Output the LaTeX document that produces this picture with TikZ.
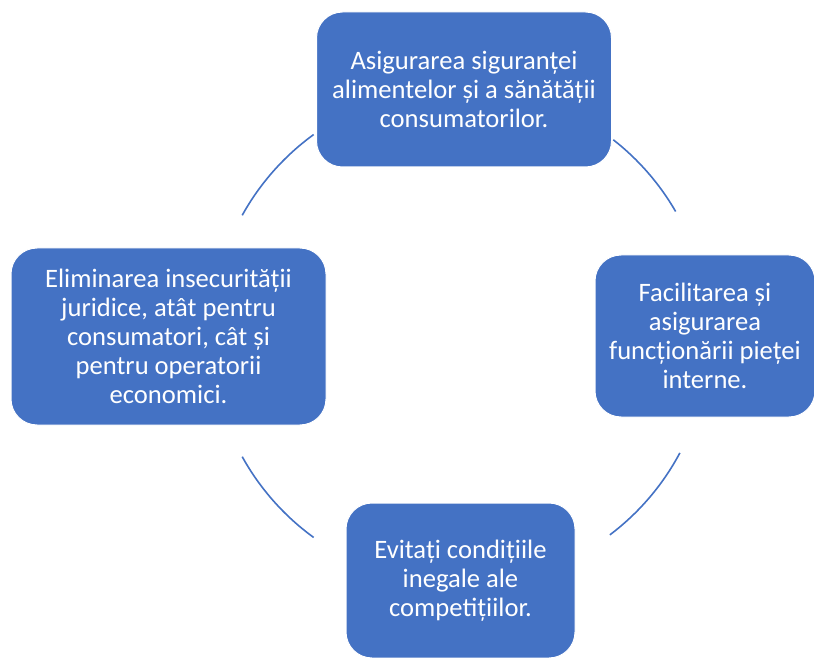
\documentclass[tikz,border=0pt]{standalone}
\usepackage{fontspec}
\setmainfont{Carlito}
\usepackage{tikz}
\usetikzlibrary{calc, positioning}
\definecolor{smartblue}{HTML}{4472C4}
\tikzset{>=latex}
\tikzset{goalbox/.style={rectangle, rounded corners=26pt, fill=smartblue,
    draw=white, line width=1pt, text=white, align=center, inner sep=0pt,
    font=\fontsize{26.6}{28.9}\selectfont}}
\tikzset{cyclearc/.style={draw=smartblue, line width=1.6pt}}

\begin{document}
\begin{tikzpicture}[x=1pt, y=1pt]
      \useasboundingbox (0, 0) rectangle (814, 657); %
      \coordinate (c) at (460, 321); %
      \def\rad{249}
      % the four goals
      \node[goalbox, minimum width=295pt, minimum height=155pt] (food) at (464, 567.5)
      {Asigurarea siguranței\\alimentelor și a sănătății\\consumatorilor.}; %
      \node[goalbox, minimum width=220pt, minimum height=162pt] (market) at (705, 321)
      {Facilitarea și\\asigurarea\\funcționării pieței\\interne.}; %
      \node[goalbox, minimum width=229pt, minimum height=155pt] (compet) at (460.5, 76.5)
      {Evitați condițiile\\inegale ale\\competițiilor.}; %
      \node[goalbox, minimum width=315pt, minimum height=177pt] (legal) at (168.5, 320.5)
      {Eliminarea insecurității\\juridice, atât pentru\\consumatori, cât și\\pentru operatorii\\economici.}; %
      % arcs of the cycle
      \draw[cyclearc] (c) ++(52:\rad) arc[start angle=52, end angle=30, radius=\rad]; %
      \draw[cyclearc] (c) ++(-28:\rad) arc[start angle=-28, end angle=-53, radius=\rad]; %
      \draw[cyclearc] (c) ++(234:\rad) arc[start angle=234, end angle=209, radius=\rad]; %
      \draw[cyclearc] (c) ++(151:\rad) arc[start angle=151, end angle=126, radius=\rad]; %
    \end{tikzpicture}
\end{document}
